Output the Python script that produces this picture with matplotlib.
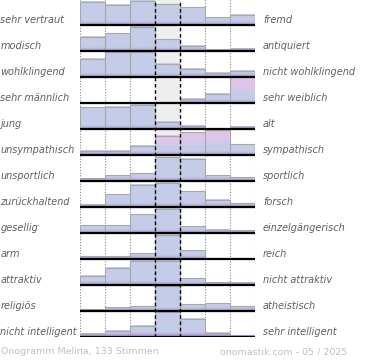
import numpy as np
import matplotlib
matplotlib.use("Agg")
import matplotlib.pyplot as plt

# Eigenschaftspaare (links / rechts)
left_labels = ["sehr vertraut", "modisch", "wohlklingend", "sehr männlich", "jung",
               "unsympathisch", "unsportlich", "zurückhaltend", "gesellig", "arm",
               "attraktiv", "religiös", "nicht intelligent"]
right_labels = ["fremd", "antiquiert", "nicht wohlklingend", "sehr weiblich", "alt",
                "sympathisch", "sportlich", "forsch", "einzelgängerisch", "reich",
                "nicht attraktiv", "atheistisch", "sehr intelligent"]

# relative Balkenhöhen je Zeile (7 Stufen)
vertraut = [23.3, 20.3, 24.0, 20.7, 17.7, 7.7, 10.3]
modisch = [14.3, 17.7, 24.3, 11.7, 5.3, 1.7, 2.3]
wohlklingend = [18.0, 24.6, 24.6, 13.0, 8.0, 4.0, 6.0]
maennlich = [0.0, 0.0, 0.0, 0.5, 4.0, 9.0, 25.9]
jung = [21.7, 22.3, 24.0, 7.3, 3.3, 0.0, 2.3]
unsympathisch = [4.0, 4.0, 9.0, 19.0, 22.3, 25.0, 10.7]
unsportlich = [2.7, 5.3, 7.7, 23.3, 22.0, 5.3, 3.7]
zurueckhaltend = [2.0, 12.7, 22.0, 24.0, 15.3, 7.0, 3.3]
gesellig = [7.5, 7.5, 18.7, 24.0, 6.3, 3.0, 2.3]
arm = [2.3, 2.3, 5.7, 24.0, 8.3, 0.5, 0.5]
attraktiv = [9.0, 17.0, 24.0, 24.0, 6.3, 2.3, 2.0]
religioes = [1.5, 3.2, 4.5, 24.0, 6.2, 7.2, 4.5]
intelligent = [2.5, 5.8, 10.8, 24.0, 17.2, 3.8, 0.5]

rows = [vertraut, modisch, wohlklingend, maennlich, jung, unsympathisch, unsportlich,
        zurueckhaltend, gesellig, arm, attraktiv, religioes, intelligent]

# rosa hervorgehobene Balken (zeile, spalte)
pink_bars = {(3, 6), (5, 3), (5, 4), (5, 5)}

ROW = 25.9  # Skala: Zeilenhöhe in Ablese-Einheiten
n_rows = len(rows)

W, H = 370, 360
fig = plt.figure(figsize=(W / 100, H / 100), dpi=100)
ax_h = 336.5 + 0.9
ax = fig.add_axes([79.5 / W, (H - 336.5) / H, 175 / W, ax_h / H])
ax.axis("off")

purple = np.array([0.66, 0.60, 0.80])
blue = np.array([0.77, 0.80, 0.91])
pink = np.array([0.87, 0.78, 0.92])


def bar_gradient(h, is_pink, n=40):
    t = np.linspace(0, h, n)
    a = np.clip(t / 0.14, 0, 1)[:, None]
    col = purple * (1 - a) + blue * a
    if is_pink:
        b = np.clip((t / h - 0.35) / 0.3, 0, 1)[:, None]
        col = col * (1 - b) + pink * b
    return col[:, None, :]


# mittlere Spalte grau hinterlegt
ax.axvspan(3, 4, color="#eeeeee", zorder=0)
for xv in [0, 1, 2, 5, 6, 7]:
    ax.axvline(xv, color="#888888", lw=0.8, ls=(0, (1, 1.5)), zorder=1)
for xv in [3, 4]:
    ax.axvline(xv, color="black", lw=1.0, ls=(0, (2.5, 2)), zorder=5)

for i, vals in enumerate(rows):
    base = n_rows - 1 - i
    for j, v in enumerate(vals):
        h = v / ROW
        if h <= 0:
            continue
        ax.imshow(bar_gradient(h, (i, j) in pink_bars), extent=(j, j + 1, base, base + h),
                  origin="lower", aspect="auto", interpolation="bilinear", zorder=2)
    ax.bar(np.arange(7), np.array(vals) / ROW, bottom=base, width=1, align="edge",
           fill=False, edgecolor="#a8a8a8", lw=0.8, zorder=3)
    ax.hlines(base, 0, 7, color="black", lw=1.6, zorder=4)

    ty = (H - 336.5 + (base + 0.19) * (ax_h / n_rows)) / H
    fig.text(0.5 / W, ty, left_labels[i], ha="left", va="center", fontsize=7,
             style="italic", color="#606060")
    fig.text(263 / W, ty, right_labels[i], ha="left", va="center", fontsize=7,
             style="italic", color="#606060")

ax.set_xlim(0, 7)
ax.set_ylim(0, n_rows)

fig.text(1 / W, 1 - 352 / H, "Onogramm Melina, 133 Stimmen", ha="left", va="center",
         fontsize=6.8, color="#c0c0c0")
fig.text(347 / W, 1 - 352 / H, "onomastik.com - 05 / 2025", ha="right", va="center",
         fontsize=6.8, color="#c0c0c0")

fig.savefig("out.png", dpi=100)
